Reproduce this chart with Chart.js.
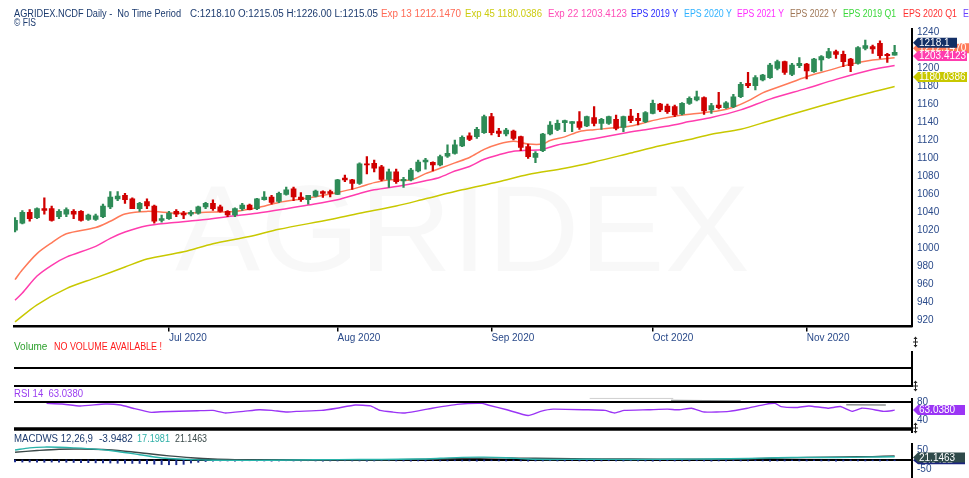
<!DOCTYPE html>
<html><head><meta charset="utf-8">
<script src="https://cdn.jsdelivr.net/npm/chart.js@4.4.1/dist/chart.umd.min.js"></script>
<style>
html,body{margin:0;padding:0;background:#fff;overflow:hidden}
#wrap{position:relative;width:969px;height:478px;overflow:hidden;background:#fff}
canvas{position:absolute;left:0}
</style></head><body>
<div id="wrap">
<canvas id="main" width="969" height="478" style="top:0"></canvas>
<canvas id="rsi" width="969" height="50" style="top:390px"></canvas>
<canvas id="macd" width="969" height="52" style="top:434px"></canvas>
</div>
<script>
// ---------------- DATA ----------------
const monthLabels = ['Jul 2020','Aug 2020','Sep 2020','Oct 2020','Nov 2020'];
const monthStartIdx = [21,44,65,87,108];   // trading-day index of first session of month
const yTicks = [920,940,960,980,1000,1020,1040,1060,1080,1100,1120,1140,1160,1180,1200,1220,1240];

const opens = [
1020,1028,1040,1034,1044,1044,1035,1038,1041,1041,
1032,1032,1035,1046,1055,1059,1055,1044,1052,1047,
1031,1033,1041,1039,1038,1039,1046,1050,1046,1041,
1037,1044,1048,1044,1054,1057,1052,1060,1066,1057,
1054,1058,1063,1063,1060,1078,1076,1072,1094,1094.5,
1090.7,1076.6,1085,1074.8,1076,1086,1096,1095.6,1092.6,1102.6,
1105.6,1114,1125,1124.2,1128.6,1146.5,1130.5,1127.2,1130.5,1124.2,
1113.1,1101.2,1108.6,1127.2,1132.4,1139.8,1139,1140.9,1136.1,1145.4,
1139,1139,1143.5,1134.6,1147.2,1144.6,1140.9,1150.2,1160.6,1158.4,
1157.6,1149.4,1161.3,1165,1167.6,1153.9,1159.5,1156.5,1157.6,1168.7,
1183.6,1181,1187.3,1189.9,1200.3,1207.7,1193.6,1203.3,1205.1,1196.6,
1209.6,1212.2,1218.9,1215.9,1210.7,1205.9,1222.6,1224.4,1228.2,1215.9,
1215.05];
const highs = [
1034,1042,1043,1045,1056,1047,1043,1045,1043,1042,
1038,1038,1049,1063,1063,1061,1056,1051,1055,1048,
1037,1041,1043,1041,1042,1047,1051,1054,1048,1042,
1045,1050,1049,1055.5,1063,1059,1062.5,1068,1068,1062,
1059,1064.7,1064,1064.7,1076.6,1081.5,1076.6,1095,1102,1098,
1092.2,1088,1088,1079,1089,1098,1100,1096.3,1103.7,1115,
1120.4,1125,1128.6,1134.6,1148.3,1150.2,1133.5,1133.5,1131.6,1124.9,
1116,1107.5,1127.9,1141,1142.8,1142.8,1140.9,1152,1147.2,1157.6,
1144.6,1147.2,1148.3,1147.2,1154.6,1150.2,1152,1165,1161.3,1160.6,
1159.5,1162.1,1168.7,1175.1,1168.7,1161.3,1173.6,1163.2,1171.3,1184.7,
1195.8,1192.1,1193.6,1205.9,1209.6,1208.5,1205.9,1212.2,1205.9,1211.4,
1214.4,1222.6,1220.7,1219.6,1211.4,1224.4,1231.9,1226.3,1230.8,1217,
1226.00];
const lows = [
1018,1027,1030,1033,1038,1030,1033,1035,1033,1030,
1031,1031,1034,1044,1053,1050,1044,1041,1044,1028,
1029,1032,1035,1033,1036,1038,1044,1042,1040,1035,
1035,1042,1042.5,1043,1053.6,1049,1050.6,1059,1053,1052,
1049,1057,1056.6,1057,1059.5,1074,1065.5,1071,1082.6,1085,
1075,1067.7,1072,1067.7,1074.8,1085,1088,1086,1091.5,1101,
1104.8,1113,1119.7,1122.3,1127.9,1126.1,1124.2,1124.9,1120.5,1108.6,
1100.1,1095.2,1107.5,1126.1,1130.9,1129.8,1129.8,1132.4,1135.3,1136.1,
1132.4,1137.9,1131.6,1129.8,1139.8,1137.2,1139.8,1149.4,1152,1150.2,
1146.5,1148.3,1160.2,1163.9,1149.1,1150.2,1155,1155.7,1156.5,1167.6,
1178.8,1176.2,1186.2,1189.2,1198.5,1193.6,1192.1,1201,1188.4,1195.8,
1197.3,1211.4,1211.4,1202.2,1196.6,1204.8,1220.7,1217,1211.4,1207,
1215.05];
const closes = [
1031,1040,1033,1044,1042,1031,1041,1043,1038,1031,
1037,1036,1047,1057,1058,1054,1044,1050,1047,1030,
1033,1039,1038,1037,1040,1046,1050,1044,1041,1037,
1044,1048,1043,1055,1057,1051,1061,1065,1057,1054,
1059,1063.6,1061,1061,1076,1076,1072,1094,1092.6,1089,
1076.6,1085,1074,1076.6,1087,1096,1098,1092.6,1102,1105.6,
1115,1123.4,1121,1132.4,1146.5,1128.6,1127.9,1131.6,1122.3,1112.3,
1101.9,1105.6,1127.2,1137.2,1139,1142,1140.9,1134.6,1146.5,1139,
1143.5,1146.5,1133.5,1146.5,1142,1142,1150.9,1161.3,1154,1152,
1148.3,1161.3,1166.9,1168.7,1152.8,1158.7,1156.5,1162,1168.7,1182.5,
1181,1189.9,1192.9,1204,1207.7,1195.8,1204,1205.9,1197.3,1210.7,
1213.3,1218.9,1215.9,1207.7,1203.3,1223.3,1225.6,1221.8,1214.4,1214.4,
1218.10];

// moving averages: [session index, value]
const ema13 = [[0,965],[1,976],[3,994],[5,1006],[7,1016],[11,1023],[13,1030],[15,1038],[18,1041],[22,1039],[26,1040],[30,1041],[33,1045],[36,1051],[40,1056],[44,1062],[47,1068],[49,1073],[51,1076],[54,1076],[56,1083],[58,1089],[60,1095],[62,1101],[64,1110],[66,1116],[68,1119],[70,1116],[72,1116],[73,1120],[75,1124],[77,1130],[79,1132],[81,1133.5],[84,1136],[86,1140],[88,1144],[90,1147],[93,1150],[96,1153],[98,1157],[100,1164],[102,1173],[105,1182],[108,1191],[111,1198],[114,1205],[117,1209.5],[120,1212.147]];
const ema22 = [[0,942],[1,950],[3,969],[5,981],[7,990],[11,1002],[13,1011],[15,1018],[18,1025],[21,1028],[25,1031],[30,1036],[33,1039],[37,1044],[40,1048],[44,1054],[47,1061],[49,1065],[53,1070],[56,1075],[58,1079],[60,1086],[62,1091],[64,1099],[66,1104],[68,1108],[70,1109],[72,1110],[74,1115],[77,1119],[79,1122],[83,1128],[86,1132],[88,1134.6],[90,1137.5],[92,1141],[95,1145.5],[99,1154],[103,1166],[108,1178],[112,1188],[117,1199],[120,1203.4123]];
const ema45 = [[0,918],[3,937],[7,955],[11,967],[15,979],[18,988],[23,996],[27,1005],[32,1013],[36,1021],[43,1032],[47,1039],[52,1047],[56,1055],[61,1065],[66,1074],[70,1082],[75,1089],[79,1096],[84,1106],[88,1114],[92,1121],[95,1127],[99,1132.5],[103,1142],[108,1154],[112,1163],[117,1174],[120,1180.0386]];

const rsiTicks = [40,80];
const rsi14 = [[4.3,77.7],[6.4,76.2],[8.9,72],[12.3,76.2],[14.4,74.1],[16.1,67],[18.6,57.8],[19.9,59.3],[24.9,61.4],[27,62.1],[28.7,56.4],[31.2,60],[33.3,63.5],[35,62.1],[37.1,58.5],[38.4,60],[41.8,62.1],[43.9,67],[46.4,74.1],[48.5,72],[49.8,62.1],[51.5,58.5],[53.2,56.4],[56.9,67],[60.3,75.5],[63.7,77.7],[64.5,74.1],[67.1,63.5],[70,50.8],[71.7,60],[73.4,64.9],[78,63.5],[80.5,62.1],[81.8,56.4],[83.1,62.1],[86.4,63.5],[89,64.9],[90.6,63.5],[92.3,67],[94,58.5],[97.4,60],[99.9,67],[102.4,75.5],[103.7,77.7],[104.5,70.6],[106.7,68.5],[108.3,72],[110.9,67],[112.6,70.6],[114.2,60],[115.5,67],[116.8,64.9],[118.5,60],[119.8,62.1],[120,63.038]];
const rsiGrayA = [[78.4,88.6],[89.8,88.6]];
const rsiGrayB = [[89.5,84.2],[99,83.2],[99.5,null],[113.4,74.6],[118.8,74.1]];

const macdTicks = [-50,50];
const macdHist = [
-10,-11,-11,-12,-12,-11,-12,-12,
-13,-14,-14,-15,-16,-16,-17,-17,-18,-18,
-20,-22,-24,-25,-25,-23,
-16,-12,-8,
-6,-5,-5,-6,-5,-4,-5,-5,-6,-5,
-4,-5,-5,-4,-5,-6,-5,-5,-4,-5,
-5,-6,-5,-4,-4,-5,-5,-6,-5,-5,
-4,-5,-5,-4,-5,-5,-6,-5,-4,-5,
-5,-4,-5,-6,-5,-5,-4,-5,-5,-4,
-5,-5,-6,-5,-4,-5,-5,-4,-5,-5,
-6,-5,-4,-5,-5,-5,-4,-5,-6,-5,
-5,-4,-5,-5,-4,-5,-6,-5,-5,-4,
-5,-5,-4,-5,-5,-6,-5,-4,-5,-5,
-4,-5,-4,-3.9482];
const macdLine = [[0,53],[2,64],[4,68],[6,67],[8,64],[11,57],[14,45],[17,28],[19,16],[21,8],[24,2],[27,-1],[32,-2],[38,0],[44,2],[50,3],[55,5],[58,9],[61,14],[64,15],[67,12],[70,5],[73,3],[78,4],[84,3],[90,4],[95,5],[100,8],[104,12],[108,14],[112,13],[116,15],[120,17.1981]];
const macdSignal = [[0,41],[3,50],[6,57],[9,58],[12,55],[15,46],[18,34],[21,22],[24,12],[27,5],[30,2],[36,0],[44,1],[52,2],[58,5],[63,9],[67,11],[71,9],[76,7],[84,5],[92,4],[98,5],[103,9],[108,13],[113,16],[117,18],[120,21.1463]];

// ---------------- RENDER ----------------
const FONT = '"Liberation Sans", Arial, sans-serif';
Chart.defaults.font.family = FONT;
const XMIN = -0.14, XMAX = 122.37;
const NAVY = '#1b3a6e', TICK = '#2a4a8a';
const GREEN = '#2e8b57', RED = '#d00000';
const C13 = '#ff7a59', C22 = '#ff3cae', C45 = '#c8c800';
const N = closes.length;
const candleColors = closes.map((c,i)=> c >= opens[i] ? GREEN : RED);
const pts = a => a.map(p => ({x:p[0], y:p[1]}));
const last = a => a[a.length-1][1];

function txt(ctx, s, x, y, color, w, size){
  ctx.font = (size||10) + 'px ' + FONT;
  ctx.fillStyle = color; ctx.textAlign = 'left'; ctx.textBaseline = 'middle';
  if (w) ctx.fillText(s, x, y, w); else ctx.fillText(s, x, y);
}
function badge(ctx, x, yc, w, bg, text, h){
  h = h || 10;
  ctx.fillStyle = bg;
  ctx.beginPath();
  ctx.moveTo(x, yc);
  ctx.lineTo(x+5, yc-h/2);
  ctx.lineTo(x+w, yc-h/2);
  ctx.lineTo(x+w, yc+h/2);
  ctx.lineTo(x+5, yc+h/2);
  ctx.closePath(); ctx.fill();
  txt(ctx, text, x+6, yc+0.5, '#fff', w-7, 10);
}
function hline(ctx, x1, x2, y, w){ ctx.strokeStyle='#000'; ctx.lineWidth=w; ctx.beginPath(); ctx.moveTo(x1,y); ctx.lineTo(x2,y); ctx.stroke(); }
function vline(ctx, x, y1, y2, w){ ctx.strokeStyle='#000'; ctx.lineWidth=w; ctx.beginPath(); ctx.moveTo(x,y1); ctx.lineTo(x,y2); ctx.stroke(); }
function icon(ctx, x, y){
  ctx.strokeStyle='#222'; ctx.lineWidth=1;
  ctx.beginPath(); ctx.moveTo(x, y-4); ctx.lineTo(x, y+4); ctx.moveTo(x-2.5, y); ctx.lineTo(x+2.5, y); ctx.stroke();
  ctx.fillStyle='#222';
  ctx.beginPath(); ctx.moveTo(x-2,y-3); ctx.lineTo(x+2,y-3); ctx.lineTo(x,y-5.5); ctx.fill();
  ctx.beginPath(); ctx.moveTo(x-2,y+3); ctx.lineTo(x+2,y+3); ctx.lineTo(x,y+5.5); ctx.fill();
}
const rightAxis = (min, max, ticks) => ({
  position:'right', min, max,
  afterBuildTicks: s => { s.ticks = ticks.map(v => ({value:v})); },
  afterFit: s => { s.width = 57; },
  grid:{display:false, drawTicks:false},
  border:{display:true, color:'#000', width:2},
  ticks:{color:TICK, font:{size:10}, padding:5, autoSkip:false, callback: v => String(v)}
});
const hiddenX = {type:'linear', display:false, offset:false, min:XMIN, max:XMAX};
const baseOpts = (padding) => ({
  responsive:false, animation:false, devicePixelRatio:1,
  layout:{padding},
  plugins:{legend:{display:false}, tooltip:{enabled:false}}
});

const mainDeco = {
  id:'mainDeco',
  beforeDatasetsDraw(chart){
    const ctx = chart.ctx; ctx.save();
    ctx.font = '122px ' + FONT;
    const w = ctx.measureText('AGRIDEX').width;
    ctx.translate(175, 271); ctx.scale(575/w, 1);
    ctx.fillStyle = 'rgba(0,0,0,0.028)'; ctx.textBaseline='alphabetic'; ctx.textAlign='left';
    ctx.fillText('AGRIDEX', 0, 0);
    ctx.restore();
  },
  afterDraw(chart){
    const ctx = chart.ctx; const y = chart.scales.y; ctx.save();
    const n = N-1;
    const head = [
      [14,167,NAVY,'AGRIDEX.NCDF Daily -  No Time Period'],
      [190,188,NAVY,'C:'+closes[n].toFixed(2)+' O:'+opens[n].toFixed(2)+' H:'+highs[n].toFixed(2)+' L:'+lows[n].toFixed(2)],
      [381,80,'#ff6a55','Exp 13 '+last(ema13).toFixed(4)],
      [465,77,'#cccc10','Exp 45 '+last(ema45).toFixed(4)],
      [548,79,'#ff4fb8','Exp 22 '+last(ema22).toFixed(4)],
      [631,47,'#2a2aff','EPS 2019 Y'],
      [684,48,'#2fb2ff','EPS 2020 Y'],
      [737,47,'#ff30ff','EPS 2021 Y'],
      [790,47,'#a07858','EPS 2022 Y'],
      [843,53,'#3ad83a','EPS 2019 Q1'],
      [903,54,'#ff3030','EPS 2020 Q1'],
      [963,54,'#6a40ff','EPS 2021 Q1']
    ];
    head.forEach(h => txt(ctx, h[3], h[0], 14, h[2], h[1]));
    txt(ctx, '\u00A9 FIS', 14, 23.5, NAVY, 22);
    // volume panel
    txt(ctx, 'Volume', 14, 347, '#2ca02c', 34);
    txt(ctx, 'NO VOLUME AVAILABLE !', 54, 347, '#ff1a1a', 108);
    hline(ctx, 14, 913, 368, 2);
    hline(ctx, 14, 913, 386, 2);
    vline(ctx, 912, 351, 387, 2);
    // RSI / MACD labels and frames
    txt(ctx, 'RSI 14  ' + last(rsi14).toFixed(4), 14, 394, '#9a3cf0', 69);
    txt(ctx, 'MACDWS 12,26,9', 14, 439, NAVY, 79);
    txt(ctx, macdHist[N-1].toFixed(4), 99, 439, NAVY, 34);
    txt(ctx, last(macdLine).toFixed(4), 137, 439, '#2fb0a8', 33);
    txt(ctx, last(macdSignal).toFixed(4), 175, 439, '#3a4a4a', 32);
    vline(ctx, 912, 398, 433, 2);
    vline(ctx, 912, 443, 478, 2);
    icon(ctx, 915.5, 342); icon(ctx, 915.5, 386); icon(ctx, 915.5, 428);
    // price badges
    const off = -9.5;
    badge(ctx, 913, y.getPixelForValue(last(ema13))+off, 56, C13, last(ema13).toFixed(4));
    badge(ctx, 913, y.getPixelForValue(closes[n])+off, 44, '#132f66', closes[n].toFixed(1));
    badge(ctx, 913, y.getPixelForValue(last(ema22))+off, 54, C22, last(ema22).toFixed(4));
    badge(ctx, 913, y.getPixelForValue(last(ema45))+off, 54, C45, last(ema45).toFixed(4));
    ctx.restore();
  }
};

new Chart(document.getElementById('main'), {
  type:'bar',
  data:{datasets:[
    {type:'bar', label:'body', data: closes.map((c,i)=>({x:i, y:[opens[i], c]})), backgroundColor:candleColors, barThickness:5, grouped:false, order:0},
    {type:'bar', label:'wick', data: closes.map((c,i)=>({x:i, y:[lows[i], highs[i]]})), backgroundColor:candleColors, barThickness:1.6, grouped:false, order:1},
    {type:'line', label:'Exp 13', data:pts(ema13), borderColor:C13, borderWidth:1.5, pointRadius:0, tension:0.3, order:2},
    {type:'line', label:'Exp 22', data:pts(ema22), borderColor:C22, borderWidth:1.5, pointRadius:0, tension:0.3, order:3},
    {type:'line', label:'Exp 45', data:pts(ema45), borderColor:C45, borderWidth:1.5, pointRadius:0, tension:0.3, order:4}
  ]},
  options: Object.assign(baseOpts({left:14, top:29, right:0, bottom:129.5}), {
    scales:{
      x:{type:'linear', offset:false, min:XMIN, max:XMAX,
        afterBuildTicks: s => { s.ticks = monthStartIdx.map(v => ({value:v})); },
        afterFit: s => { s.height = 22; },
        grid:{display:true, offset:false, drawOnChartArea:false, drawTicks:true, tickLength:5, color:'#000', lineWidth:1.5},
        border:{display:true, color:'#000', width:2.5},
        ticks:{align:'start', color:TICK, font:{size:10}, padding:1, maxRotation:0, autoSkip:false,
               callback:(v, i) => monthLabels[i]}
      },
      y: rightAxis(912.8, 1244.1, yTicks)
    }
  }),
  plugins:[mainDeco]
});

const rsiDeco = {
  id:'rsiDeco',
  afterDraw(chart){
    const ctx = chart.ctx, a = chart.chartArea, y = chart.scales.y;
    hline(ctx, 14, 913, a.top, 2);
    hline(ctx, 14, 913, a.bottom, 3.5);
    badge(ctx, 913, y.getPixelForValue(last(rsi14)), 52, '#9b35f5', last(rsi14).toFixed(4));
  }
};
new Chart(document.getElementById('rsi'), {
  type:'line',
  data:{datasets:[
    {data:pts(rsi14), borderColor:'#9b35f5', borderWidth:1.4, pointRadius:0, tension:0.15},
    {data:pts(rsiGrayA), borderColor:'#cfcfcf', borderWidth:1, pointRadius:0, clip:false},
    {data:pts(rsiGrayB), borderColor:'#8c9090', borderWidth:1.3, pointRadius:0, clip:false, spanGaps:false}
  ]},
  options: Object.assign(baseOpts({left:14, top:12, right:0, bottom:10}), {
    scales:{ x:hiddenX, y: rightAxis(21, 80.7, rsiTicks) }
  }),
  plugins:[rsiDeco]
});

const macdDeco = {
  id:'macdDeco',
  beforeDatasetsDraw(chart){
    const y0 = chart.scales.y.getPixelForValue(0);
    hline(chart.ctx, 14, 913, y0, 2);
  },
  afterDraw(chart){
    const ctx = chart.ctx, y = chart.scales.y;
    badge(ctx, 913, y.getPixelForValue(macdHist[N-1])-0.5, 52, '#1a237e', macdHist[N-1].toFixed(4), 8);
    badge(ctx, 913, y.getPixelForValue(last(macdSignal))+1.5, 52, '#2f4a4a', last(macdSignal).toFixed(4));
  }
};
new Chart(document.getElementById('macd'), {
  type:'bar',
  data:{datasets:[
    {type:'line', data:pts(macdLine), borderColor:'#2ab3aa', borderWidth:1.4, pointRadius:0, tension:0.3, order:0},
    {type:'line', data:pts(macdSignal), borderColor:'#3c4a4a', borderWidth:1.4, pointRadius:0, tension:0.3, order:1},
    {type:'bar', data:macdHist.map((v,i)=>({x:i, y:v})), backgroundColor:'#1a2a8c', barThickness:1.3, grouped:false, order:2}
  ]},
  options: Object.assign(baseOpts({left:14, top:10, right:0, bottom:8}), {
    scales:{ x:hiddenX, y: rightAxis(-79, 79, macdTicks) }
  }),
  plugins:[macdDeco]
});
</script>
</body></html>
